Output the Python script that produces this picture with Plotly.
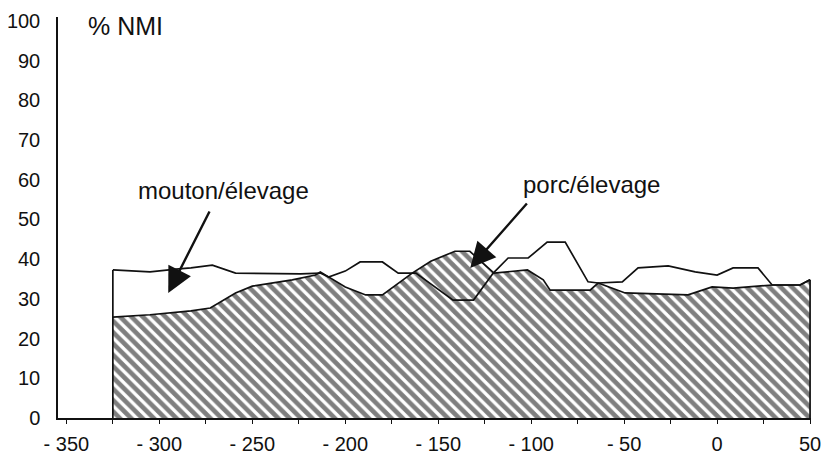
import plotly.graph_objects as go

# Mouton/élevage (outlined, white area)
mouton_x = [-325, -305, -291, -283, -271.5, -259, -224, -213.4, -209, -200, -192, -180,
            -171.5, -162, -142, -131, -120.4, -112.4, -101.6, -91.4, -81.7, -69.4, -64,
            -51, -42.5, -26.3, -11.8, 0, 8.6, 22, 29.6, 44.6, 50]
mouton_y = [37.3, 36.8, 37.5, 37.8, 38.5, 36.5, 36.3, 36.5, 35.5, 37, 39.3, 39.3,
            36.5, 36.5, 29.7, 29.7, 36.5, 40.3, 40.3, 44.3, 44.3, 34.3, 34,
            34.3, 37.8, 38.3, 36.8, 36, 37.8, 37.8, 33.5, 33.5, 34.8]

# Porc/élevage (hatched area)
porc_x = [-325, -305, -283, -272.6, -259, -250, -228.5, -216, -213.4, -209, -200, -189,
          -180, -164, -154, -141, -133, -120, -102, -93.5, -89.8, -68.3, -64, -49.5,
          -15.6, -2.7, 8.6, 29.6, 44.6, 50]
porc_y = [25.4, 26, 27, 27.7, 31.5, 33.2, 34.8, 36, 36.8, 35.5, 33, 31,
          31, 36.5, 39.5, 42, 42, 36.5, 37.3, 34.8, 32.2, 32.2, 34, 31.5,
          31, 33, 32.7, 33.5, 33.5, 34.8]

x_ticks = [-350, -300, -250, -200, -150, -100, -50, 0, 50]
x_ticktext = ["- 350", "- 300", "- 250", "- 200", "- 150", "- 100", "- 50", "0", "50"]
y_ticks = [0, 10, 20, 30, 40, 50, 60, 70, 80, 90, 100]

FONT = "Liberation Sans"
INK = "#111111"

fig = go.Figure()

fig.add_trace(go.Scatter(
    x=porc_x, y=porc_y, mode="lines", fill="tozeroy",
    line=dict(color=INK, width=1.7),
    fillcolor="white",
    fillpattern=dict(shape="\\", fgcolor="black", bgcolor="white", size=8, solidity=0.58),
    hoverinfo="skip", showlegend=False))

fig.add_trace(go.Scatter(
    x=mouton_x, y=mouton_y, mode="lines",
    line=dict(color=INK, width=1.7),
    hoverinfo="skip", showlegend=False))

# vertical edges of the areas, taken from the data
shapes = [
    dict(type="line", xref="x", yref="y", x0=mouton_x[0], x1=mouton_x[0], y0=0, y1=max(mouton_y[0], porc_y[0]),
         line=dict(color=INK, width=1.7)),
    dict(type="line", xref="x", yref="y", x0=porc_x[-1], x1=porc_x[-1], y0=0, y1=max(mouton_y[-1], porc_y[-1]),
         line=dict(color=INK, width=1.7)),
]

annotations = [
    dict(x=-318, y=98.7, xref="x", yref="y", text="% NMI", showarrow=False,
         font=dict(family=FONT, size=25, color=INK)),
    dict(x=-265.6, y=57.4, xref="x", yref="y", text="mouton/élevage", showarrow=False,
         font=dict(family=FONT, size=24, color=INK)),
    dict(x=-67.7, y=58.7, xref="x", yref="y", text="porc/élevage", showarrow=False,
         font=dict(family=FONT, size=24, color=INK)),
    dict(x=-295.2, y=31.5, ax=-272.6, ay=52.4, xref="x", yref="y", axref="x", ayref="y",
         text="", showarrow=True, arrowhead=2, arrowsize=2.1, arrowwidth=2.4, arrowcolor=INK),
    dict(x=-132.8, y=37.8, ax=-101.6, ay=54.4, xref="x", yref="y", axref="x", ayref="y",
         text="", showarrow=True, arrowhead=2, arrowsize=2.1, arrowwidth=2.4, arrowcolor=INK),
]

# page body has an 8px default margin: figure sized so that it fits the 830x455 window
fig.update_layout(
    width=822, height=447,
    margin=dict(l=50, r=19, t=9, b=37),
    paper_bgcolor="white", plot_bgcolor="white",
    font=dict(family=FONT, size=20, color=INK),
    shapes=shapes, annotations=annotations,
    xaxis=dict(range=[-354.5, 50.5], tickvals=x_ticks, ticktext=x_ticktext, automargin=False,
               showgrid=False, zeroline=False, showline=True, linecolor=INK, linewidth=1.5,
               ticks="outside", ticklen=4, tickcolor=INK, tickwidth=1.2,
               minor=dict(dtick=25, tick0=0, ticks="outside", ticklen=4, tickcolor=INK, showgrid=False),
               ticklabelstandoff=3, tickfont=dict(size=20)),
    yaxis=dict(range=[0, 101], tickvals=y_ticks, automargin=False,
               showgrid=False, zeroline=False, showline=True, linecolor=INK, linewidth=1.5,
               ticks="", ticklabelstandoff=12, tickfont=dict(size=20)),
)

fig.write_html("out.html")
